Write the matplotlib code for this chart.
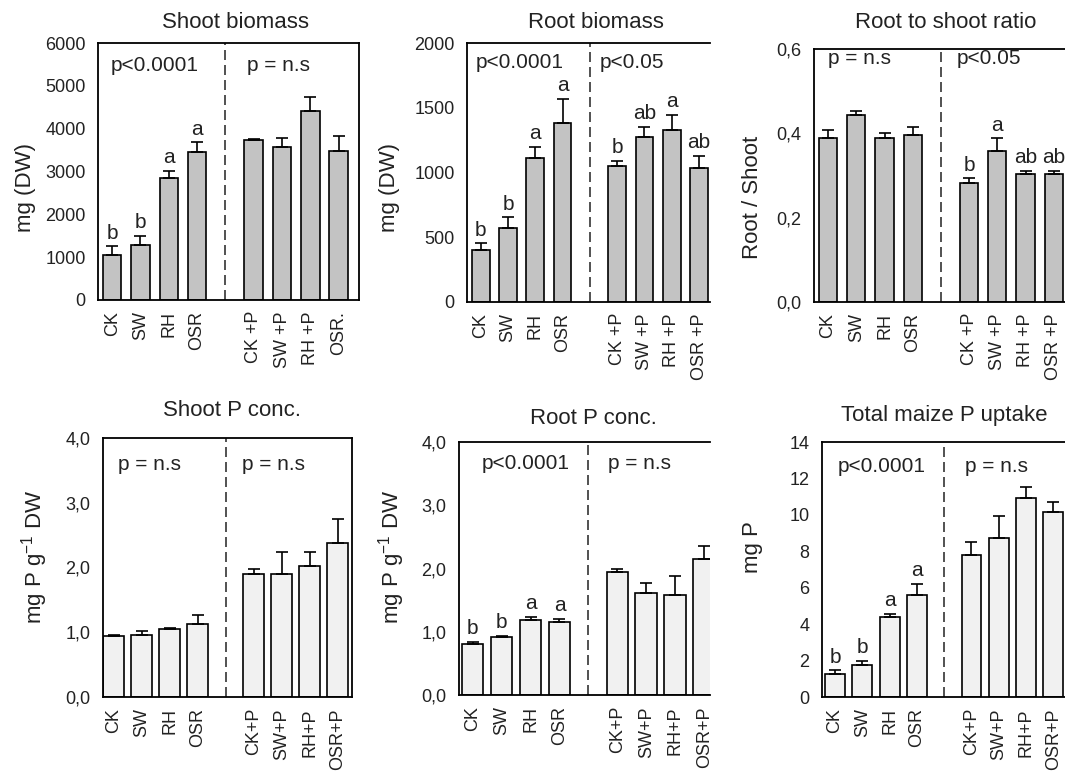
import matplotlib
matplotlib.use("Agg")
import matplotlib.pyplot as plt
import numpy as np

plt.rcParams['font.family'] = ['Liberation Sans', 'DejaVu Sans']

groups_top = ["CK", "SW", "RH", "OSR"]
shoot_bio_labels = groups_top + ["CK +P", "SW +P", "RH +P", "OSR."]
root_labels_top = groups_top + ["CK +P", "SW +P", "RH +P", "OSR +P"]
labels_bottom = groups_top + ["CK+P", "SW+P", "RH+P", "OSR+P"]

# Shoot biomass (mg DW)
shoot_bio = [1040, 1290, 2850, 3450, 3730, 3570, 4410, 3490]
shoot_bio_err = [210, 210, 170, 230, 30, 210, 320, 330]
shoot_bio_let = ["b", "b", "a", "a", "", "", "", ""]

# Root biomass (mg DW)
root_bio = [400, 573, 1115, 1381, 1050, 1275, 1326, 1037]
root_bio_err = [52, 80, 85, 185, 39, 80, 117, 91]
root_bio_let = ["b", "b", "a", "a", "b", "ab", "a", "ab"]

# Root to shoot ratio
ratio = [0.388, 0.443, 0.388, 0.396, 0.282, 0.359, 0.303, 0.303]
ratio_err = [0.020, 0.010, 0.012, 0.020, 0.011, 0.029, 0.007, 0.007]
ratio_let = ["", "", "", "", "b", "a", "ab", "ab"]

# Shoot P conc.
shoot_p = [0.94, 0.965, 1.048, 1.125, 1.90, 1.90, 2.028, 2.374]
shoot_p_err = [0.025, 0.055, 0.025, 0.14, 0.077, 0.335, 0.207, 0.377]
shoot_p_let = [""] * 8

# Root P conc.
root_p = [0.807, 0.913, 1.187, 1.156, 1.942, 1.615, 1.588, 2.153]
root_p_err = [0.027, 0.016, 0.048, 0.052, 0.053, 0.163, 0.30, 0.195]
root_p_let = ["b", "b", "a", "a", "", "", "", ""]

# Total maize P uptake (mg P)
uptake = [1.28, 1.74, 4.40, 5.62, 7.80, 8.75, 10.92, 10.15]
uptake_err = [0.18, 0.22, 0.18, 0.57, 0.73, 1.19, 0.60, 0.55]
uptake_let = ["b", "b", "a", "a", "", "", "", ""]

ticks_bio = [0, 1000, 2000, 3000, 4000, 5000, 6000]
ticks_root = [0, 500, 1000, 1500, 2000]
ticks_ratio = [0.0, 0.2, 0.4, 0.6]
ticks_conc = [0.0, 1.0, 2.0, 3.0, 4.0]
ticks_uptake = [0, 2, 4, 6, 8, 10, 12, 14]

xpos = np.array([0, 1, 2, 3, 5, 6, 7, 8])

W, H = 1065, 778
fig = plt.figure(figsize=(W / 100, H / 100), dpi=100)


def px_axes(l, t, r, b):
    return fig.add_axes([l / W, 1 - b / H, (r - l) / W, (b - t) / H])


def panel(ax, vals, errs, lets, labels, yticks, ylim, fmt, color, width,
          xlim, ptexts, right_spine=True):
    ax.bar(xpos, vals, width=width, color=color, edgecolor="black", lw=1.2,
           zorder=2)
    ax.errorbar(xpos, vals, yerr=[np.zeros(8), errs], fmt="none",
                ecolor="black", elinewidth=1.2, capsize=4.5, capthick=1.2,
                zorder=3)
    off = (ylim[1] - ylim[0]) * 0.015
    for x, v, e, l in zip(xpos, vals, errs, lets):
        if l:
            ax.text(x, v + e + off, l, ha="center", va="bottom", fontsize=15,
                    color="#222222", clip_on=False)
    ax.axvline(4, color="#333333", lw=1.2, ls=(0, (6, 3)), zorder=1)
    ax.set_xlim(*xlim)
    ax.set_ylim(*ylim)
    ax.set_yticks(yticks)
    ax.set_yticklabels([fmt(t) for t in yticks], fontsize=13, color="#222222")
    ax.set_xticks(xpos)
    ax.set_xticklabels(labels, rotation=90, fontsize=13, color="#222222")
    ax.tick_params(axis="y", length=0, pad=9)
    ax.tick_params(axis="x", length=0, pad=8)
    for s in ax.spines.values():
        s.set_linewidth(1.3)
    if not right_spine:
        ax.spines["right"].set_visible(False)
    for (tx, ty, s) in ptexts:
        ax.text(tx, ty, s, transform=ax.transAxes, ha="left", va="center",
                fontsize=15, color="#222222")


def fint(t):
    return "%d" % t


def fcomma(t):
    return ("%.1f" % t).replace(".", ",")


top_gray = "#c3c3c3"
light = "#f1f1f1"

ax1 = px_axes(98, 43, 359, 300)
panel(ax1, shoot_bio, shoot_bio_err, shoot_bio_let, shoot_bio_labels,
      ticks_bio, (0, 6000), fint, top_gray, 0.65, (-0.5, 8.72),
      [(0.047, 0.914, "p<0.0001"), (0.571, 0.914, "p = n.s")])
ax2 = px_axes(467, 43, 710, 302)
panel(ax2, root_bio, root_bio_err, root_bio_let, root_labels_top,
      ticks_root, (0, 2000), fint, top_gray, 0.65, (-0.5, 8.4),
      [(0.034, 0.923, "p<0.0001"), (0.548, 0.923, "p<0.05")],
      right_spine=False)
ax3 = px_axes(814, 49, 1065, 302)
panel(ax3, ratio, ratio_err, ratio_let, root_labels_top,
      ticks_ratio, (0, 0.6), fcomma, top_gray, 0.65, (-0.5, 8.4),
      [(0.056, 0.962, "p = n.s"), (0.570, 0.962, "p<0.05")],
      right_spine=False)
ax4 = px_axes(103, 438, 352, 697)
panel(ax4, shoot_p, shoot_p_err, shoot_p_let, labels_bottom,
      ticks_conc, (0, 4.0), fcomma, light, 0.75, (-0.38, 8.5),
      [(0.06, 0.896, "p = n.s"), (0.558, 0.896, "p = n.s")])
ax5 = px_axes(459, 442, 710, 695)
panel(ax5, root_p, root_p_err, root_p_let, labels_bottom,
      ticks_conc, (0, 4.0), fcomma, light, 0.75, (-0.47, 8.2),
      [(0.09, 0.914, "p<0.0001"), (0.593, 0.914, "p = n.s")],
      right_spine=False)
ax6 = px_axes(822, 442, 1065, 697)
panel(ax6, uptake, uptake_err, uptake_let, labels_bottom,
      ticks_uptake, (0, 14), fint, light, 0.73, (-0.48, 8.43),
      [(0.063, 0.903, "p<0.0001"), (0.589, 0.903, "p = n.s")],
      right_spine=False)

titles = [(236, 22, "Shoot biomass"), (596, 23, "Root biomass"),
          (946, 23, "Root to shoot ratio"), (232, 410, "Shoot P conc."),
          (593, 418, "Root P conc."), (944, 415, "Total maize P uptake")]
for x, y, s in titles:
    fig.text(x / W, 1 - y / H, s, ha="center", va="center", fontsize=16,
             color="#222222")

ylabels = [(25, 187, "mg (DW)"), (390, 187, "mg (DW)"),
           (753, 197, "Root / Shoot"),
           (35, 557, r"mg P g$^{\mathregular{-1}}$ DW"),
           (392, 557, r"mg P g$^{\mathregular{-1}}$ DW"), (753, 547, "mg P")]
for x, y, s in ylabels:
    fig.text(x / W, 1 - y / H, s, ha="center", va="center", rotation=90,
             fontsize=16, color="#222222")

fig.savefig("out.png", dpi=100, facecolor="white")
